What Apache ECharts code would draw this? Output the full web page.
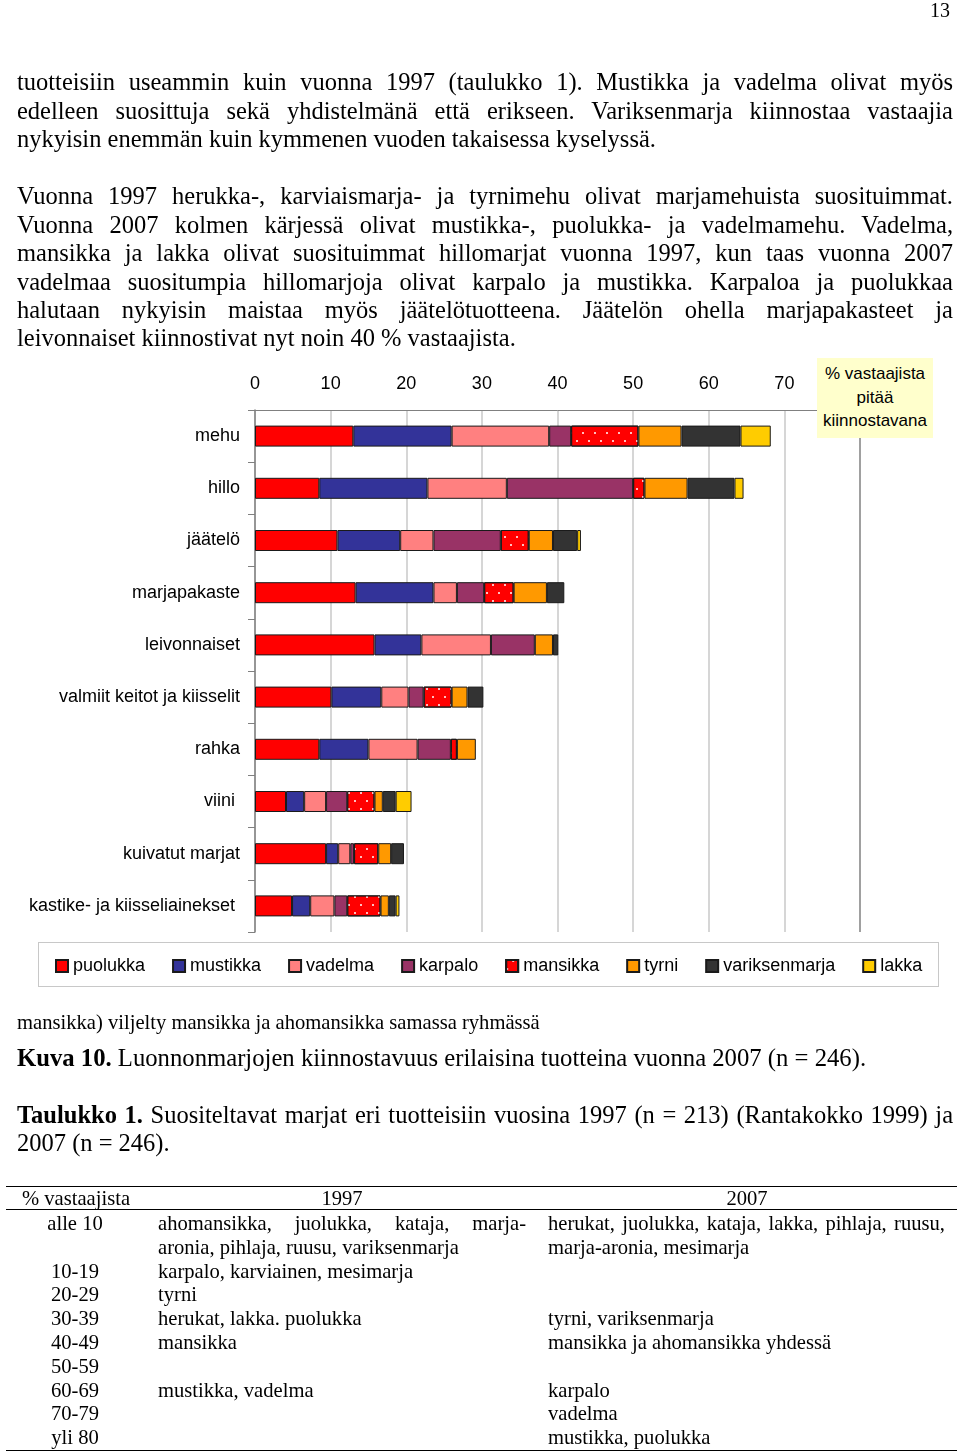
<!DOCTYPE html>
<html>
<head>
<meta charset="utf-8">
<script src="https://cdn.jsdelivr.net/npm/echarts@6.0.0/dist/echarts.min.js"></script>
<style>
  html, body { margin:0; padding:0; background:#fff; }
  #page { position:relative; width:960px; height:1452px; overflow:hidden; background:#fff; }
  #chart { position:absolute; left:0; top:0; width:960px; height:1452px; }
  .t { position:absolute; font-family:'Liberation Serif','Times New Roman',serif; color:#000; white-space:nowrap; }
  .body { font-size:24.5px; line-height:28px; left:17px; }
  .j { width:936px; text-align:justify; text-align-last:justify; white-space:normal; }
  .tb { font-size:20.6px; line-height:24px; }
  .hl { position:absolute; height:0; border-top:1px solid #000; }
  #note { position:absolute; left:817px; top:358px; width:116px; height:76px; padding-top:4px; background:#ffffcc;
          font-family:'Liberation Sans',Arial,sans-serif; font-size:17px; line-height:23.5px; text-align:center; color:#000; }
  #legbox { position:absolute; left:38px; top:942px; width:899px; height:43px; border:1px solid #c8c8c8; }
</style>
</head>
<body>
<div id="page">
<div id="chart"></div>

<div class="t" style="left:930px;top:-2px;font-size:20px;line-height:24px;">13</div>

<div class="t body j" style="top:68px;">tuotteisiin useammin kuin vuonna 1997 (taulukko 1). Mustikka ja vadelma olivat myös</div>
<div class="t body j" style="top:97px;">edelleen suosittuja sekä yhdistelmänä että erikseen. Variksenmarja kiinnostaa vastaajia</div>
<div class="t body" style="top:125px;">nykyisin enemmän kuin kymmenen vuoden takaisessa kyselyssä.</div>

<div class="t body j" style="top:182px;">Vuonna 1997 herukka-, karviaismarja- ja tyrnimehu olivat marjamehuista suosituimmat.</div>
<div class="t body j" style="top:211px;">Vuonna 2007 kolmen kärjessä olivat mustikka-, puolukka- ja vadelmamehu. Vadelma,</div>
<div class="t body j" style="top:239px;">mansikka ja lakka olivat suosituimmat hillomarjat vuonna 1997, kun taas vuonna 2007</div>
<div class="t body j" style="top:268px;">vadelmaa suositumpia hillomarjoja olivat karpalo ja mustikka. Karpaloa ja puolukkaa</div>
<div class="t body j" style="top:296px;">halutaan nykyisin maistaa myös jäätelötuotteena. Jäätelön ohella marjapakasteet ja</div>
<div class="t body" style="top:324px;">leivonnaiset kiinnostivat nyt noin 40 % vastaajista.</div>

<div id="note">% vastaajista<br>pitää<br>kiinnostavana</div>
<div id="legbox"></div>

<div class="t" style="left:17px;top:1010px;font-size:20.6px;line-height:24px;">mansikka) viljelty mansikka ja ahomansikka samassa ryhmässä</div>
<div class="t body" style="top:1044px;font-size:24.7px;"><b>Kuva 10.</b> Luonnonmarjojen kiinnostavuus erilaisina tuotteina vuonna 2007 (n = 246).</div>
<div class="t body j" style="top:1101px;"><b>Taulukko 1.</b> Suositeltavat marjat eri tuotteisiin vuosina 1997 (n = 213) (Rantakokko 1999) ja</div>
<div class="t body" style="top:1129px;">2007 (n = 246).</div>

<div class="hl" style="left:6px;width:951px;top:1186px;"></div>
<div class="hl" style="left:6px;width:951px;top:1209px;"></div>
<div class="hl" style="left:6px;width:951px;top:1450px;"></div>

<div id="table"></div>
</div>

<script>
// ---- Chart data ----
const categories = ['mehu', 'hillo', 'jäätelö', 'marjapakaste', 'leivonnaiset',
  'valmiit keitot ja kiisselit', 'rahka', 'viini ', 'kuivatut marjat', 'kastike- ja kiisseliainekset '];
const seriesNames = ['puolukka', 'mustikka', 'vadelma', 'karpalo', 'mansikka', 'tyrni', 'variksenmarja', 'lakka'];
const puolukka      = [13.0, 8.5, 10.9, 13.3, 15.8, 10.1, 8.5, 4.1, 9.4, 4.9];
const mustikka      = [13.0, 14.3, 8.3, 10.3, 6.2, 6.6, 6.5, 2.4, 1.6, 2.4];
const vadelma       = [12.9, 10.5, 4.4, 3.1, 9.2, 3.6, 6.5, 2.9, 1.6, 3.2];
const karpalo       = [2.9, 16.7, 8.9, 3.6, 5.8, 2.0, 4.4, 2.8, 0.5, 1.7];
const mansikka      = [8.9, 1.5, 3.7, 3.9, null, 3.7, 0.8, 3.6, 3.2, 4.4];
const tyrni         = [5.7, 5.7, 3.2, 4.4, 2.4, 2.1, 2.5, 1.1, 1.7, 1.1];
const variksenmarja = [7.8, 6.2, 3.2, 2.3, 0.7, 2.1, null, 1.7, 1.7, 0.9];
const lakka         = [4.0, 1.2, 0.5, null, null, null, null, 2.1, null, 0.5];
const xTicks = [0, 10, 20, 30, 40, 50, 60, 70];

// ---- Table data ----
const tableHeader = ['% vastaajista', '1997', '2007'];
const tableRows = [
  ['alle 10', ['ahomansikka, juolukka, kataja, marja-', 'aronia, pihlaja, ruusu, variksenmarja'],
              ['herukat, juolukka, kataja, lakka, pihlaja, ruusu,', 'marja-aronia, mesimarja']],
  ['10-19', ['karpalo, karviainen, mesimarja'], []],
  ['20-29', ['tyrni'], []],
  ['30-39', ['herukat, lakka. puolukka'], ['tyrni, variksenmarja']],
  ['40-49', ['mansikka'], ['mansikka ja ahomansikka yhdessä']],
  ['50-59', [], []],
  ['60-69', ['mustikka, vadelma'], ['karpalo']],
  ['70-79', [], ['vadelma']],
  ['yli 80', [], ['mustikka, puolukka']]
];

// build table text
(function () {
  const page = document.getElementById('page');
  function add(text, css) {
    const d = document.createElement('div');
    d.className = 't tb';
    d.textContent = text;
    Object.assign(d.style, css);
    page.appendChild(d);
  }
  const headTop = 1186;
  add(tableHeader[0], { left: '22px', top: headTop + 'px' });
  add(tableHeader[1], { left: '242px', top: headTop + 'px', width: '200px', textAlign: 'center' });
  add(tableHeader[2], { left: '647px', top: headTop + 'px', width: '200px', textAlign: 'center' });
  const rowH = 23.8;
  let line = 0;
  const firstTop = 1211;
  tableRows.forEach(r => {
    const top = firstTop + line * rowH;
    add(r[0], { left: '20px', top: top + 'px', width: '110px', textAlign: 'center' });
    r[1].forEach((s, i) => {
      const css = { left: '158px', top: (top + i * rowH) + 'px' };
      if (i < r[1].length - 1) { Object.assign(css, { width: '368px', whiteSpace: 'normal', textAlign: 'justify', textAlignLast: 'justify' }); }
      add(s, css);
    });
    r[2].forEach((s, i) => {
      const css = { left: '548px', top: (top + i * rowH) + 'px' };
      if (i < r[2].length - 1) { Object.assign(css, { width: '397px', whiteSpace: 'normal', textAlign: 'justify', textAlignLast: 'justify' }); }
      add(s, css);
    });
    line += Math.max(1, r[1].length, r[2].length);
  });
})();

const colors = ['#ff0000', '#333399', '#ff8080', '#993366', '#ff0000', '#ff9900', '#333333', '#ffcc00'];
const values = [puolukka, mustikka, vadelma, karpalo, mansikka, tyrni, variksenmarja, lakka];

const chart = echarts.init(document.getElementById('chart'), null, { renderer: 'canvas' });
const font = "'Liberation Sans', Arial, sans-serif";
const series = seriesNames.map((name, i) => {
  const itemStyle = { color: colors[i], borderColor: '#1a1a1a', borderWidth: 1 };
  if (name === 'mansikka') {
    itemStyle.decal = {
      symbol: 'circle', symbolSize: 1, color: '#ffffff',
      dashArrayX: [[1.6, 9.4], [0, 5.5, 1.6, 3.9]],
      dashArrayY: [1.6, 5.4], rotation: 0
    };
  }
  return {
    name, type: 'bar', stack: 'all', barWidth: 21,
    data: values[i], itemStyle, emphasis: { disabled: true }
  };
});

chart.setOption({
  animation: false,
  textStyle: { fontFamily: font },
  grid: { left: 255, top: 410, width: 605, height: 522, containLabel: false },
  xAxis: {
    type: 'value', position: 'top', min: 0, max: 80, interval: 10,
    axisLine: { show: true, lineStyle: { color: '#808080', width: 1 } },
    axisTick: { show: false },
    axisLabel: { margin: 17, fontSize: 18, color: '#000', fontFamily: font,
      formatter: v => (xTicks.indexOf(v) >= 0 ? String(v) : '') },
    splitLine: { show: true, lineStyle: { color: ['#c8c8c8','#c8c8c8','#c8c8c8','#c8c8c8','#c8c8c8','#c8c8c8','#c8c8c8','#c8c8c8','#808080'], width: 1.5 } }
  },
  yAxis: {
    type: 'category', inverse: true, data: categories,
    axisLine: { show: true, lineStyle: { color: '#808080', width: 1.5 } },
    axisTick: { show: true, length: 7, lineStyle: { color: '#808080' } },
    axisLabel: { margin: 15, fontSize: 18, color: '#000', fontFamily: font, padding: [6, 0, 0, 0] }
  },
  legend: {
    data: seriesNames, left: 50, top: 952, icon: 'rect', itemWidth: 12, itemHeight: 12,
    itemGap: 27, selectedMode: false,
    textStyle: { fontSize: 18, color: '#000', fontFamily: font }
  },
  series
});
</script>
</body>
</html>
